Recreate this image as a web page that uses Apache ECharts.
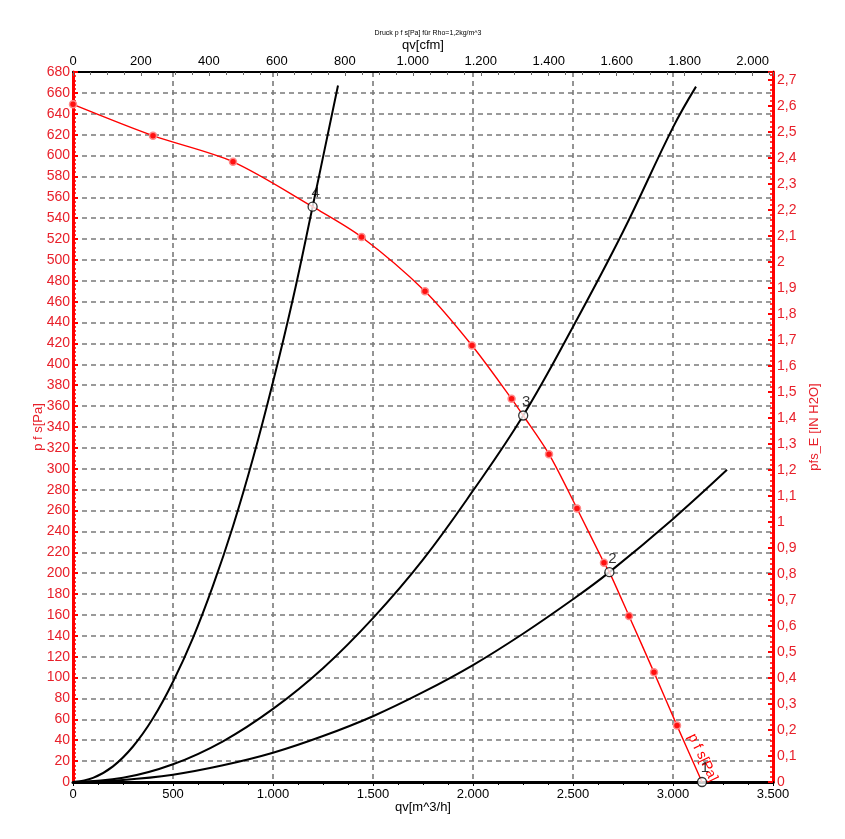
<!DOCTYPE html>
<html>
<head>
<meta charset="utf-8">
<script src="https://cdn.jsdelivr.net/npm/echarts@6/dist/echarts.min.js"></script>
<style>html,body{margin:0;padding:0;background:#fff}#c{width:845px;height:839px}</style>
</head>
<body>
<div id="c"></div>
<script>
// ---- data ----
const fanQ = [0, 400, 800, 1198, 1443, 1760, 1995, 2193, 2251, 2380, 2520, 2655, 2682, 2780, 2905, 3020, 3145];
const fanP = [649, 619, 594, 551, 522, 470, 418, 367, 351, 314, 262, 210, 201, 159, 105, 54, 0];
const fanMarker = [1, 1, 1, 0, 1, 1, 1, 1, 0, 1, 1, 1, 0, 1, 1, 1, 0];

const sys4Q = [0, 100, 200, 300, 400, 500, 600, 700, 800, 900, 1000, 1100, 1198, 1325];
const sys4P = [0, 4, 15, 34, 61, 96, 138, 188, 245, 310, 383, 463, 551, 667];
const sys3Q = [0, 250, 500, 750, 1000, 1250, 1500, 1750, 2000, 2251, 2500, 2750, 3000, 3115];
const sys3P = [0, 4, 17, 39, 70, 109, 157, 213, 279, 351, 436, 527, 627, 666];
const sys2Q = [0, 250, 500, 750, 1000, 1250, 1500, 1750, 2000, 2250, 2500, 2682, 3000, 3270];
const sys2P = [0, 2, 7, 16, 28, 44, 63, 86, 112, 142, 175, 201, 252, 299];

const opQ = [1198, 2251, 2682, 3145];
const opP = [551, 351, 201, 0];
const opLabel = ['4', '3', '2', '1'];

const qMax = 3500, qStep = 500;          // m^3/h
const pMax = 680, pStep = 20;            // Pa
const cfmPerM3h = 1 / 1.699;             // unit conversion
const inH2OPerPa = 1 / 249.089;

const titleText = 'Druck p f s[Pa] für Rho=1,2kg/m^3';
const curveLabel = 'p f s[Pa]';

// ---- build ----
const RED = '#ff0000', LRED = '#e8202a';
const FONT = 'Liberation Sans, Arial, sans-serif';
const thousands = v => {
  const s = String(Math.round(v));
  return s.replace(/\B(?=(\d{3})+(?!\d))/g, '.');
};
const comma = v => String(Number(v.toFixed(1))).replace('.', ',');
const zip = (a, b) => a.map((x, i) => [x, b[i]]);

const fanData = fanQ.map((q, i) => {
  const d = { value: [q, fanP[i]] };
  if (!fanMarker[i]) d.symbol = 'none';
  if (q === 3020) {
    d.label = { show: true, formatter: curveLabel, position: 'inside', offset: [40, -9], rotate: -64,
      color: RED, fontSize: 14, fontFamily: FONT };
  }
  return d;
});

const blackLine = (name, q, p) => ({
  name, type: 'line', data: zip(q, p), smooth: 0.4, showSymbol: false, symbol: 'none',
  lineStyle: { color: '#000', width: 2 }, z: 3, silent: true
});

const dash = { color: '#7a7a7a', width: 1.6, type: [5, 4] };

const option = {
  animation: false,
  backgroundColor: '#fff',
  title: { text: titleText, left: 423, top: 25, textAlign: 'center',
    textStyle: { fontSize: 7, fontWeight: 'normal', color: '#000', fontFamily: FONT } },
  grid: { left: 73, right: 72, top: 72, bottom: 57 },
  xAxis: [
    { type: 'value', position: 'bottom', min: 0, max: qMax, interval: qStep,
      name: 'qv[m^3/h]', nameLocation: 'middle', nameGap: 19, nameMoveOverlap: false,
      nameTextStyle: { color: '#000', fontSize: 13, fontFamily: FONT },
      axisLine: { onZero: false, lineStyle: { color: '#000', width: 3 } },
      axisTick: { show: true, length: 4, lineStyle: { color: '#000', width: 1 } },
      minorTick: { show: true, splitNumber: 4, length: 3, lineStyle: { color: '#000' } },
      axisLabel: { color: '#000', fontSize: 13, margin: 6, fontFamily: FONT, formatter: thousands },
      splitLine: { show: true, lineStyle: dash } },
    { type: 'value', position: 'top', min: 0, max: qMax * cfmPerM3h, interval: 200,
      name: 'qv[cfm]', nameLocation: 'middle', nameGap: 20, nameMoveOverlap: false,
      nameTextStyle: { color: '#000', fontSize: 13, fontFamily: FONT },
      axisLine: { onZero: false, lineStyle: { color: '#000', width: 2 } },
      axisTick: { show: true, inside: true, length: 4, lineStyle: { color: '#666' } },
      minorTick: { show: true, splitNumber: 4, length: 3, lineStyle: { color: '#666' } },
      axisLabel: { color: '#000', fontSize: 13, margin: 4, fontFamily: FONT, formatter: thousands, showMaxLabel: false },
      splitLine: { show: false } }
  ],
  yAxis: [
    { type: 'value', position: 'left', min: 0, max: pMax, interval: pStep,
      name: 'p f s[Pa]', nameLocation: 'middle', nameGap: 28, nameRotate: 90, nameMoveOverlap: false,
      nameTextStyle: { color: LRED, fontSize: 13, fontFamily: FONT },
      axisLine: { onZero: false, lineStyle: { color: RED, width: 3 } },
      axisTick: { show: true, inside: true, length: 5, lineStyle: { color: RED, width: 2 } },
      minorTick: { show: true, splitNumber: 5, length: 3, lineStyle: { color: RED, width: 1.5 } },
      axisLabel: { color: LRED, fontSize: 14, margin: 3, fontFamily: FONT },
      splitLine: { show: true, lineStyle: dash } },
    { type: 'value', position: 'right', min: 0, max: pMax * inH2OPerPa, interval: 0.1,
      name: 'pfs_E [IN H2O]', nameLocation: 'middle', nameGap: 35, nameRotate: 90, nameMoveOverlap: false,
      nameTextStyle: { color: LRED, fontSize: 13, fontFamily: FONT },
      axisLine: { onZero: false, lineStyle: { color: RED, width: 3 } },
      axisTick: { show: true, inside: true, length: 5, lineStyle: { color: RED, width: 2 } },
      minorTick: { show: true, splitNumber: 5, length: 3, lineStyle: { color: RED, width: 1.5 } },
      axisLabel: { color: LRED, fontSize: 14, margin: 4, fontFamily: FONT, formatter: comma, showMaxLabel: false },
      splitLine: { show: false } }
  ],
  series: [
    blackLine('4', sys4Q, sys4P),
    blackLine('3', sys3Q, sys3P),
    blackLine('2', sys2Q, sys2P),
    { name: 'fan', type: 'line', data: fanData, smooth: 0.3, symbol: 'circle', symbolSize: 7,
      itemStyle: { color: '#ff1010', borderColor: '#ff8a8a', borderWidth: 1.5 },
      lineStyle: { color: RED, width: 1.4 }, z: 4, silent: true },
    { name: 'op', type: 'scatter', data: opQ.map((q, i) => ({ value: [q, opP[i]], name: opLabel[i] })),
      symbol: 'circle', symbolSize: 9,
      itemStyle: { color: '#fff', borderColor: '#000', borderWidth: 1.3 },
      label: { show: true, formatter: p => p.name, position: 'top', offset: [3, 4],
        color: '#000', fontSize: 15, fontFamily: FONT },
      z: 5, silent: true }
  ]
};

const chart = echarts.init(document.getElementById('c'), null, { renderer: 'canvas' });
chart.setOption(option);
</script>
</body>
</html>
